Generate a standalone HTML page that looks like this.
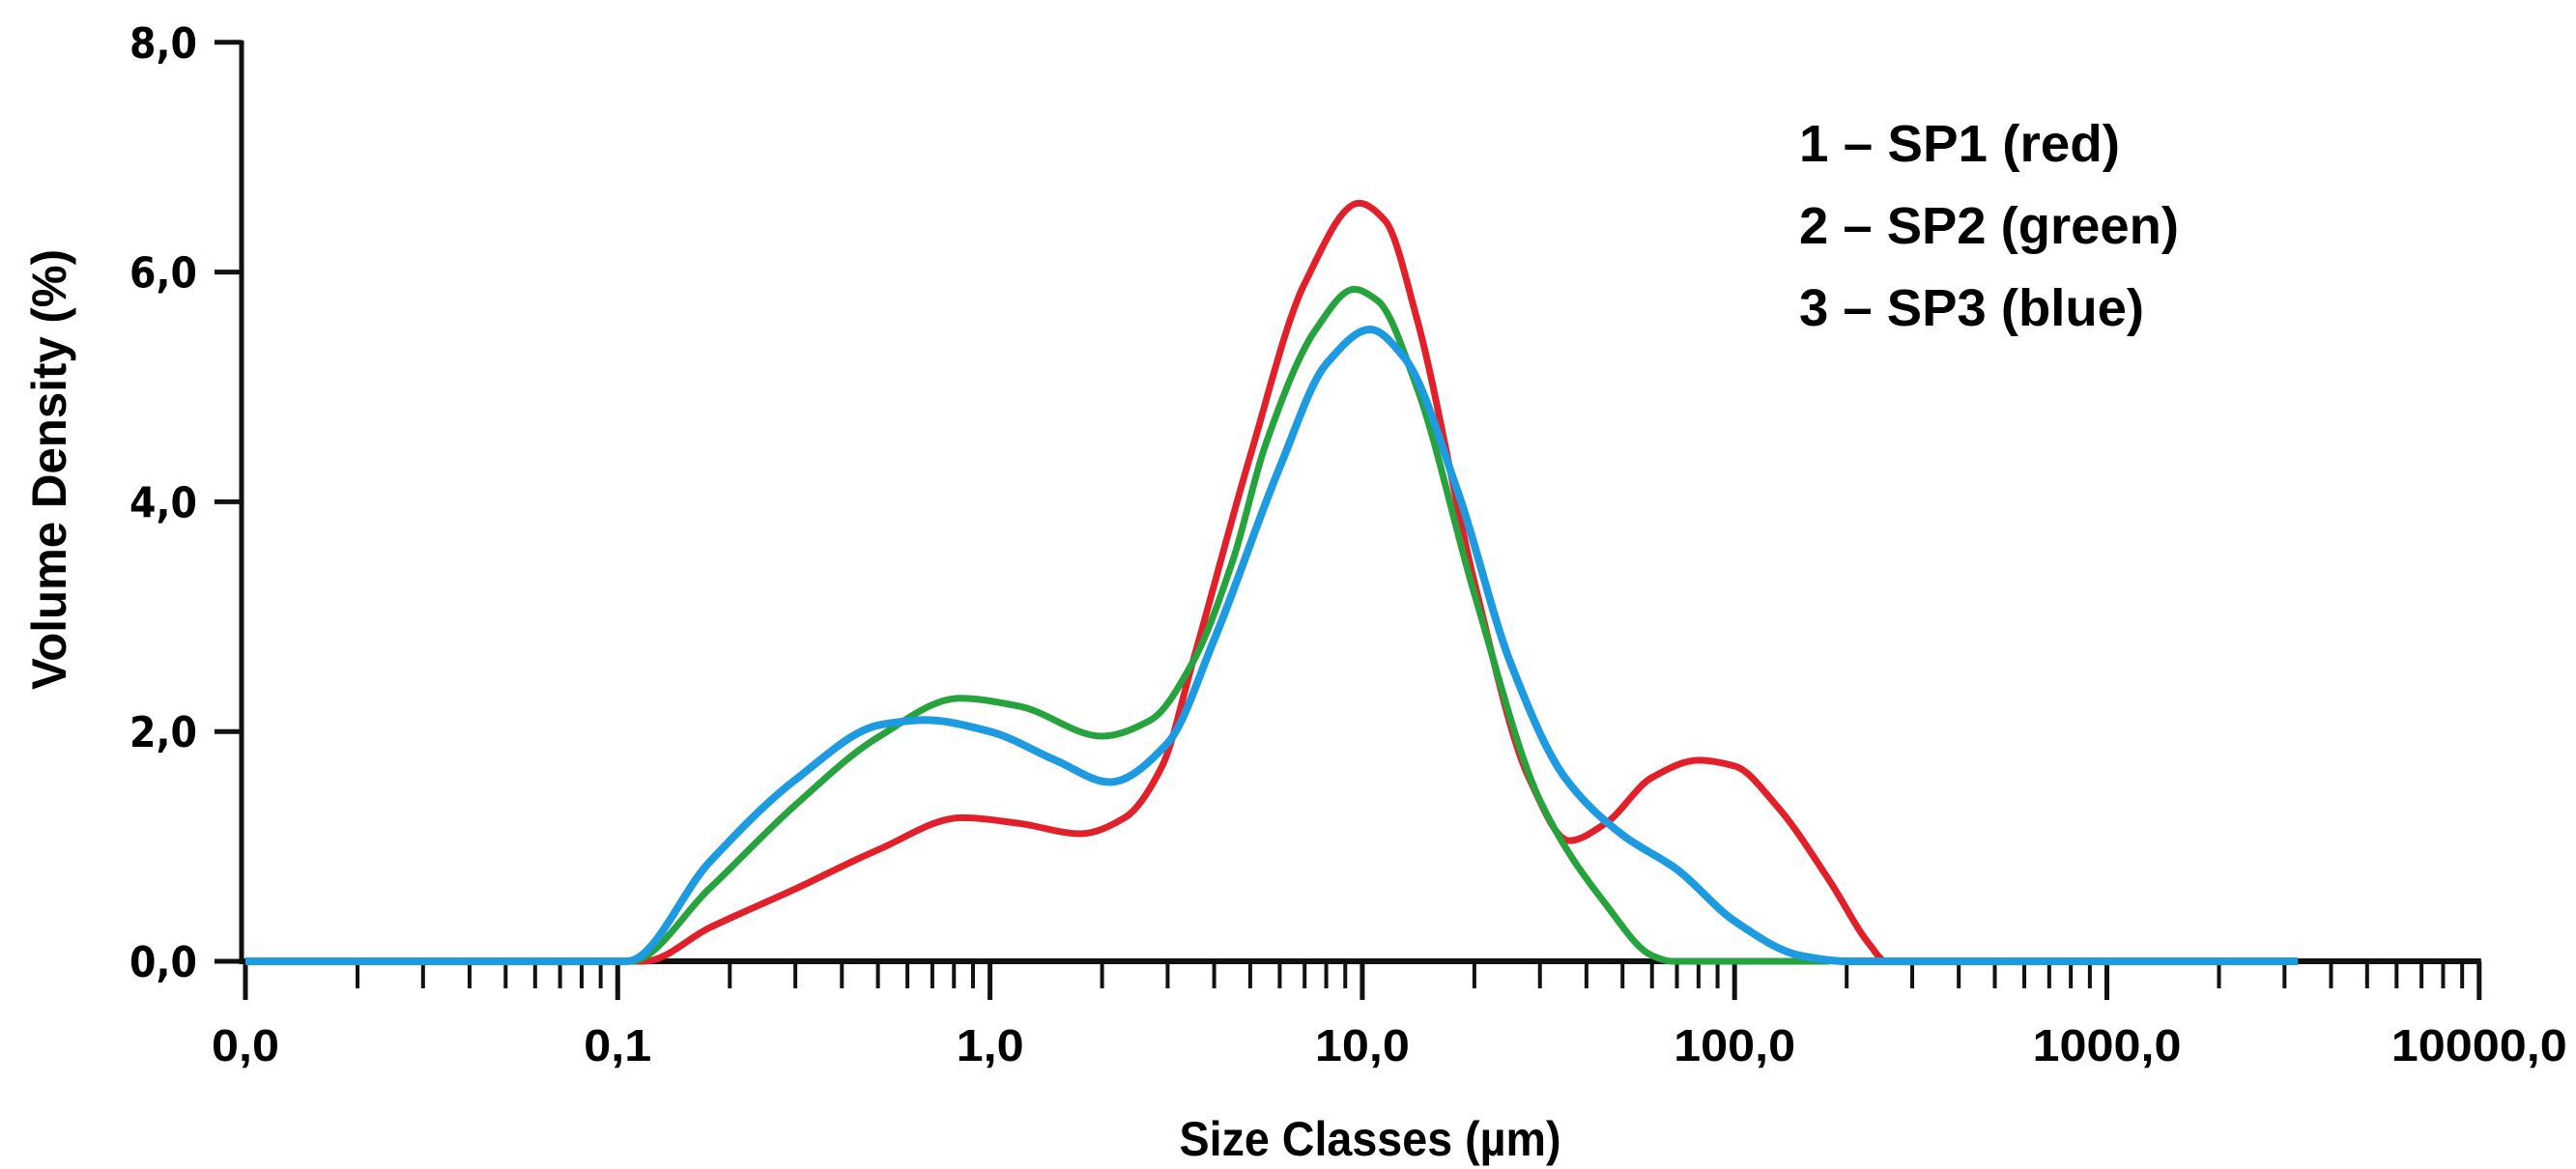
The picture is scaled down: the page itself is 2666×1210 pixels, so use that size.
<!DOCTYPE html>
<html><head><meta charset="utf-8"><style>
html,body{margin:0;padding:0;background:#fff;}
svg{display:block;}
</style></head><body>
<svg id="chart" width="2666" height="1210" viewBox="0 0 2666 1210" xmlns="http://www.w3.org/2000/svg">
<g id="axes"></g>
<g id="series"></g>
<g font-family="Liberation Sans, sans-serif" font-weight="bold" font-size="54" fill="#000">
<text x="1862" y="167" textLength="332" lengthAdjust="spacingAndGlyphs">1 – SP1 (red)</text>
<text x="1862" y="252" textLength="393" lengthAdjust="spacingAndGlyphs">2 – SP2 (green)</text>
<text x="1862" y="337" textLength="357" lengthAdjust="spacingAndGlyphs">3 – SP3 (blue)</text>
</g>
<text x="1418" y="1196" text-anchor="middle" font-family="Liberation Sans, sans-serif" font-weight="bold" font-size="50" textLength="395" lengthAdjust="spacingAndGlyphs">Size Classes (µm)</text>
<text transform="translate(68,486) rotate(-90)" text-anchor="middle" font-family="Liberation Sans, sans-serif" font-weight="bold" font-size="50" textLength="456" lengthAdjust="spacingAndGlyphs">Volume Density (%)</text>
</svg>
<script>
const yTicks = [0, 2, 4, 6, 8];
const yTickLabels = ["0,0", "2,0", "4,0", "6,0", "8,0"];
const xDecades = [0.01, 0.1, 1, 10, 100, 1000, 10000];
const xTickLabels = ["0,0", "0,1", "1,0", "10,0", "100,0", "1000,0", "10000,0"];
const redX = [0.01, 0.118, 0.176, 0.3, 0.5, 0.84, 1.2, 1.75, 2.3, 2.9, 3.5, 5, 7, 9.8, 11.5, 14, 20, 28, 36, 45, 60, 80, 100, 130, 180, 230, 255, 3260];
const redY = [0, 0, 0.29, 0.63, 0.97, 1.25, 1.2, 1.11, 1.25, 1.7, 2.6, 4.4, 5.9, 6.6, 6.45, 5.6, 3.3, 1.6, 1.05, 1.2, 1.6, 1.75, 1.7, 1.35, 0.7, 0.15, 0, 0];
const greenX = [0.01, 0.108, 0.176, 0.3, 0.5, 0.83, 1.2, 2.0, 2.7, 3.5, 4.5, 5.5, 7.5, 9.5, 11, 14, 20, 30, 45, 60, 68, 180];
const greenY = [0, 0, 0.63, 1.36, 1.95, 2.29, 2.22, 1.96, 2.1, 2.6, 3.5, 4.5, 5.5, 5.85, 5.75, 5.0, 3.2, 1.4, 0.5, 0.05, 0, 0];
const blueX = [0.01, 0.106, 0.176, 0.3, 0.51, 0.67, 1.0, 1.5, 2.1, 3, 4, 6, 8, 10.5, 13, 18, 25, 35, 50, 70, 100, 150, 200, 3260];
const blueY = [0, 0, 0.86, 1.58, 2.06, 2.1, 2.0, 1.75, 1.56, 1.9, 2.8, 4.3, 5.2, 5.5, 5.25, 4.1, 2.6, 1.6, 1.1, 0.8, 0.35, 0.05, 0, 0];

const NS = "http://www.w3.org/2000/svg";
const X0 = 254, DEC = 385.3, Y0 = 995, YU = 118.9;
function xs(v){ return X0 + DEC * Math.log10(v / 0.01); }
function ys(v){ return Y0 - YU * v; }
function mk(tag, attrs, parent){ const e = document.createElementNS(NS, tag); for (const k in attrs) e.setAttribute(k, attrs[k]); parent.appendChild(e); return e; }

const axes = document.getElementById('axes');
const yAxis = mk('line', {x1: 250, y1: ys(8) - 2, x2: 250, y2: Y0 + 3, stroke: '#111', 'stroke-width': 5}, axes);


const xAxis = mk('line', {x1: 248, y1: Y0, x2: xs(10000) + 2, y2: Y0, stroke: '#111', 'stroke-width': 6}, axes);



yTicks.forEach((v, i) => {
  const t = mk('line', {x1: 222, y1: ys(v), x2: 250, y2: ys(v), stroke: '#111', 'stroke-width': 5}, axes);
  
  
  const l = mk('text', {x: 204, y: ys(v) + 16, 'text-anchor': 'end', 'font-family': 'DejaVu Sans, sans-serif', 'font-weight': 'bold', 'font-size': 44, textLength: 70, lengthAdjust: 'spacingAndGlyphs'}, axes);
  l.textContent = yTickLabels[i];
  
  
});

xDecades.forEach((d, i) => {
  const t = mk('line', {x1: xs(d), y1: Y0, x2: xs(d), y2: Y0 + 40, stroke: '#111', 'stroke-width': 5}, axes);
  
  
  const txt = xTickLabels[i];
  const w = (txt.length - 1) * 28 + 14;
  const l = mk('text', {x: xs(d), y: 1098, 'text-anchor': 'middle', 'font-family': 'Liberation Sans, sans-serif', 'font-weight': 'bold', 'font-size': 46, textLength: w, lengthAdjust: 'spacingAndGlyphs'}, axes);
  l.textContent = txt;
  
  
  if (i < xDecades.length - 1) {
    for (let m = 2; m <= 9; m++) {
      const mt = mk('line', {x1: xs(d * m), y1: Y0, x2: xs(d * m), y2: Y0 + 28, stroke: '#111', 'stroke-width': 4}, axes);
      
      
    }
  }
});

// monotone cubic (Fritsch–Carlson) in pixel space
function smoothPath(X, Y){
  const px = X.map(xs), py = Y.map(ys), n = px.length;
  const dl = [], m = new Array(n);
  for (let i = 0; i < n - 1; i++) dl.push((py[i+1] - py[i]) / (px[i+1] - px[i]));
  m[0] = dl[0]; m[n-1] = dl[n-2];
  for (let i = 1; i < n - 1; i++) {
    if (dl[i-1] * dl[i] <= 0) m[i] = 0;
    else { const h0 = px[i]-px[i-1], h1 = px[i+1]-px[i]; const w1 = 2*h1 + h0, w2 = h1 + 2*h0; m[i] = (w1 + w2) / (w1/dl[i-1] + w2/dl[i]); }
  }
  let d = 'M' + px[0] + ',' + py[0];
  for (let i = 0; i < n - 1; i++) {
    const h = px[i+1] - px[i];
    d += ' C' + (px[i] + h/3) + ',' + (py[i] + m[i]*h/3) + ' ' + (px[i+1] - h/3) + ',' + (py[i+1] - m[i+1]*h/3) + ' ' + px[i+1] + ',' + py[i+1];
  }
  return d;
}
const series = document.getElementById('series');
const r = mk('path', {d: smoothPath(redX, redY), fill: 'none', stroke: '#e2202a', 'stroke-width': 7, 'stroke-linejoin': 'round'}, series);


const g = mk('path', {d: smoothPath(greenX, greenY), fill: 'none', stroke: '#27a33e', 'stroke-width': 7, 'stroke-linejoin': 'round'}, series);


const b = mk('path', {d: smoothPath(blueX, blueY), fill: 'none', stroke: '#1e9be0', 'stroke-width': 8, 'stroke-linejoin': 'round'}, series);


</script>
</body></html>
